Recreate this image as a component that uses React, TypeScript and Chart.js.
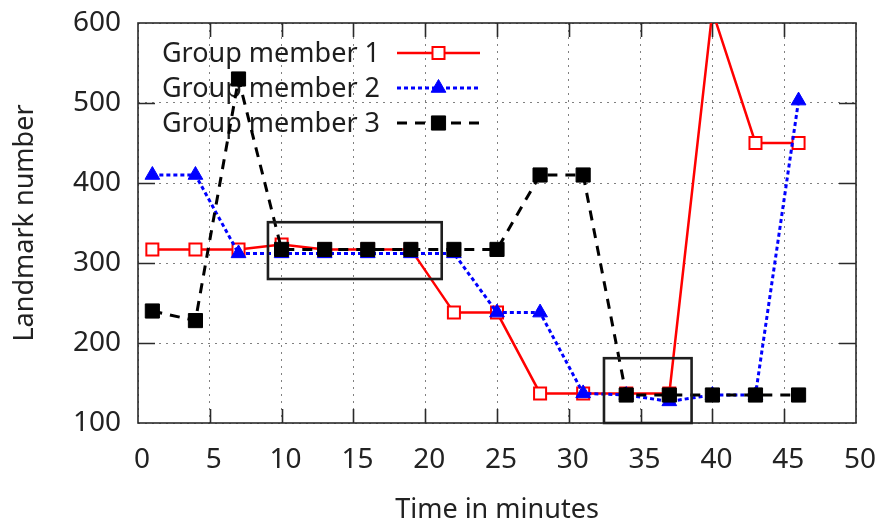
import React, { useEffect, useRef } from 'react';
import { Chart, registerables } from 'chart.js';

Chart.register(...registerables);

// ---- data ----
const timeMinutes = [1, 4, 7, 10, 13, 16, 19, 22, 25, 28, 31, 34, 37, 40, 43, 46];
const member1 = [317, 317, 317, 323, 317, 317, 317, 238, 238, 137, 137, 137, 137, 615, 450, 450];
const member2 = [410, 410, 312, 312, 312, 312, 312, 312, 238, 238, 137, 135, 127, 135, 135, 503];
const member3 = [240, 228, 530, 317, 317, 317, 317, 317, 317, 410, 410, 135, 135, 135, 135, 135];
const seriesLabels = ['Group member 1', 'Group member 2', 'Group member 3'];

const xMin = 0, xMax = 50, xStep = 5;
const yMin = 100, yMax = 600, yStep = 100;

// highlight boxes (data coordinates)
const boxStartX = [9.05, 32.45];
const boxEndX = [21.15, 38.55];
const boxLowY = [280, 100];
const boxHighY = [351, 181];

const FONT = "'Noto Sans', 'DejaVu Sans', sans-serif";

function drawMarker(ctx: CanvasRenderingContext2D, style: string, x: number, y: number, r: number, fill: string, stroke: string, lw: number) {
  ctx.save();
  ctx.setLineDash([]);
  ctx.beginPath();
  if (style === 'triangle') {
    for (let i = 0; i < 3; i++) {
      const a = (i * 2 * Math.PI) / 3;
      const px = x + Math.sin(a) * r;
      const py = y - Math.cos(a) * r;
      if (i === 0) ctx.moveTo(px, py); else ctx.lineTo(px, py);
    }
    ctx.closePath();
  } else {
    const s = Math.SQRT1_2 * r;
    ctx.rect(x - s, y - s, 2 * s, 2 * s);
  }
  ctx.fillStyle = fill;
  ctx.fill();
  ctx.lineWidth = lw;
  ctx.strokeStyle = stroke;
  ctx.stroke();
  ctx.restore();
}

const zeroPad = (s: any) => {
  s.paddingTop = 0;
  s.paddingBottom = 0;
  s.paddingLeft = 0;
  s.paddingRight = 0;
};

const framePlugin = {
  id: 'frame',
  beforeDatasetsDraw(chart: any) {
    const { ctx, chartArea: a, scales } = chart;
    ctx.save();
    // border
    ctx.strokeStyle = '#2a2a2a';
    ctx.lineWidth = 1.6;
    ctx.setLineDash([]);
    ctx.strokeRect(a.left, a.top, a.right - a.left, a.bottom - a.top);
    // inward ticks
    ctx.beginPath();
    scales.x.ticks.forEach((t: any) => {
      if (t.value <= xMin || t.value >= xMax) return;
      const px = Math.round(scales.x.getPixelForValue(t.value)) + 0.5;
      ctx.moveTo(px, a.bottom); ctx.lineTo(px, a.bottom - 14);
      ctx.moveTo(px, a.top); ctx.lineTo(px, a.top + 14);
    });
    scales.y.ticks.forEach((t: any) => {
      if (t.value <= yMin || t.value >= yMax) return;
      const py = Math.round(scales.y.getPixelForValue(t.value)) + 0.5;
      ctx.moveTo(a.left, py); ctx.lineTo(a.left + 17, py);
      ctx.moveTo(a.right, py); ctx.lineTo(a.right - 17, py);
    });
    ctx.stroke();

    // legend (key), drawn before data like gnuplot
    const textRight = a.left + 242;
    const sampleL = a.left + 259;
    const sampleR = a.left + 342;
    const rowY = [a.top + 30, a.top + 65, a.top + 100];
    ctx.font = `27px ${FONT}`;
    ctx.textAlign = 'right';
    ctx.textBaseline = 'middle';
    chart.data.datasets.forEach((ds: any, i: number) => {
      const y = rowY[i];
      ctx.fillStyle = '#1e1e1e';
      ctx.fillText(ds.label, textRight, y + 1);
      ctx.save();
      ctx.strokeStyle = ds.borderColor;
      ctx.lineWidth = ds.borderWidth;
      ctx.setLineDash(ds.borderDash || []);
      ctx.beginPath();
      ctx.moveTo(sampleL, y);
      ctx.lineTo(sampleR, y);
      ctx.stroke();
      ctx.restore();
      drawMarker(ctx, ds.pointStyle, (sampleL + sampleR) / 2, y, ds.pointRadius, ds.pointBackgroundColor, ds.pointBorderColor, ds.pointBorderWidth);
    });
    ctx.restore();
  },
  afterDatasetsDraw(chart: any) {
    const { ctx, scales } = chart;
    ctx.save();
    ctx.strokeStyle = '#1e1e1e';
    ctx.lineWidth = 2.6;
    ctx.setLineDash([]);
    for (let i = 0; i < boxStartX.length; i++) {
      const x0 = scales.x.getPixelForValue(boxStartX[i]);
      const x1 = scales.x.getPixelForValue(boxEndX[i]);
      const y0 = scales.y.getPixelForValue(boxHighY[i]);
      const y1 = scales.y.getPixelForValue(boxLowY[i]);
      ctx.strokeRect(x0, y0, x1 - x0, y1 - y0);
    }
    ctx.restore();
  },
};

export default function App() {
  const ref = useRef<HTMLCanvasElement | null>(null);

  useEffect(() => {
    if (!ref.current) return;
    const toPts = (vals: number[]) => vals.map((v, i) => ({ x: timeMinutes[i], y: v }));
    const chart = new Chart(ref.current, {
      type: 'line',
      data: {
        datasets: [
          {
            label: seriesLabels[0],
            data: toPts(member1),
            borderColor: '#ff0000',
            borderWidth: 2.5,
            borderDash: [],
            pointStyle: 'rect',
            pointRadius: 8.5,
            pointBackgroundColor: '#ffffff',
            pointBorderColor: '#ff0000',
            pointBorderWidth: 2,
            order: 3,
          },
          {
            label: seriesLabels[1],
            data: toPts(member2),
            borderColor: '#0000ff',
            borderWidth: 3,
            borderDash: [4, 3],
            pointStyle: 'triangle',
            pointRadius: 8.5,
            pointBackgroundColor: '#0000ff',
            pointBorderColor: '#0000ff',
            pointBorderWidth: 1,
            order: 2,
          },
          {
            label: seriesLabels[2],
            data: toPts(member3),
            borderColor: '#000000',
            borderWidth: 3,
            borderDash: [10, 8],
            pointStyle: 'rect',
            pointRadius: 10,
            pointBackgroundColor: '#000000',
            pointBorderColor: '#000000',
            pointBorderWidth: 1,
            order: 1,
          },
        ] as any,
      },
      options: {
        animation: false,
        responsive: false,
        devicePixelRatio: 1,
        layout: { padding: { left: 0, right: 23, top: 23, bottom: 0 } },
        plugins: { legend: { display: false }, tooltip: { enabled: false } },
        elements: { line: { tension: 0 } },
        scales: {
          x: {
            type: 'linear',
            min: xMin,
            max: xMax,
            ticks: { stepSize: xStep, color: '#222', font: { family: FONT, size: 28 }, padding: 20, labelOffset: 4, maxRotation: 0 },
            grid: { color: '#808080', lineWidth: 1, drawTicks: false },
            border: { display: false, dash: [2, 5] },
            title: { display: true, text: 'Time in minutes', color: '#222', font: { family: FONT, size: 27 }, padding: { top: 0, bottom: -3 } },
            afterFit: (s: any) => { s.height = 101; zeroPad(s); },
          },
          y: {
            type: 'linear',
            min: yMin,
            max: yMax,
            ticks: { stepSize: yStep, color: '#222', font: { family: FONT, size: 28 }, padding: 17 },
            grid: { color: '#808080', lineWidth: 1, drawTicks: false },
            border: { display: false, dash: [2, 5] },
            title: { display: true, text: 'Landmark number', color: '#222', font: { family: FONT, size: 27 }, padding: { top: 9, bottom: 0 } },
            afterFit: (s: any) => { s.width = 138; zeroPad(s); },
          },
        },
      } as any,
      plugins: [framePlugin],
    });
    return () => chart.destroy();
  }, []);

  return (
    <div style={{ position: 'absolute', left: 0, top: 0, width: 879, height: 524, background: '#fff' }}>
      <canvas ref={ref} width={879} height={524} style={{ display: 'block' }} />
    </div>
  );
}
